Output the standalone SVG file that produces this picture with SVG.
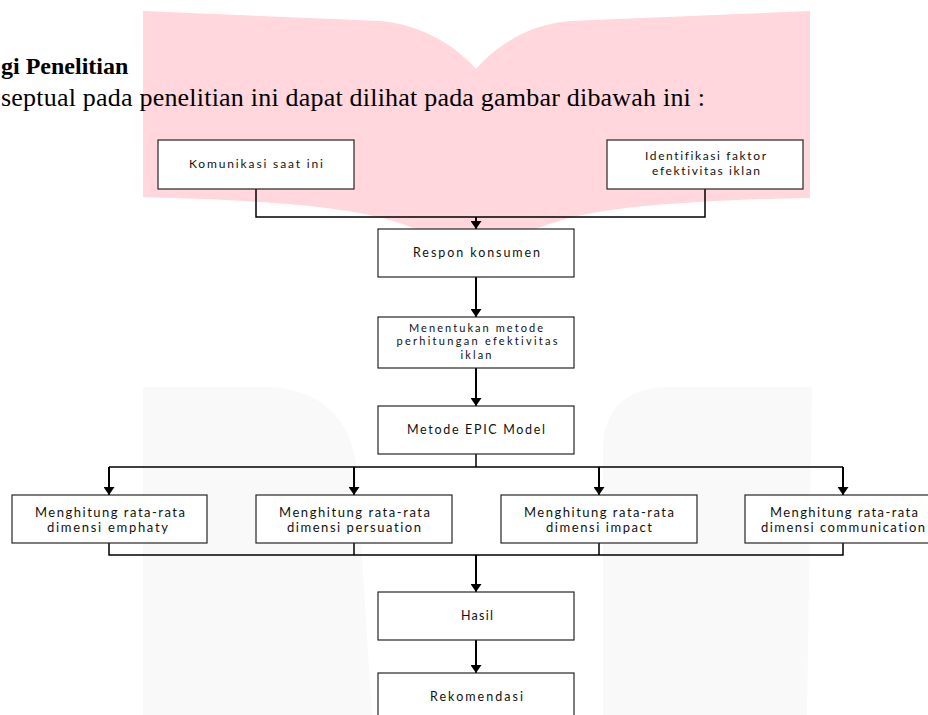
<svg xmlns="http://www.w3.org/2000/svg" width="928" height="715" viewBox="0 0 928 715">
<defs>
<style>
.box{fill:#fff;stroke:#262626;stroke-width:1.2}
.lbl{font-family:Lato,"Open Sans","Noto Sans",sans-serif;fill:#111;text-anchor:middle;font-variant-ligatures:none;font-feature-settings:"liga" 0}
.s1{font-size:12px}
.s2{font-size:12.5px}
.s4{font-size:11px}
.s3{font-size:13px}
.ln{fill:none;stroke:#000;stroke-width:1.5}
.ar{fill:none;stroke:#000;stroke-width:2;marker-end:url(#ah)}
.hd{font-family:"Liberation Serif","Times New Roman",serif;fill:#000}
.pink{fill:#FFD7DC}
.grey{fill:#F9F9F9}
</style>
<marker id="ah" viewBox="0 0 8 11" refX="8" refY="5.5" markerUnits="userSpaceOnUse" markerWidth="8" markerHeight="11" orient="auto"><path d="M0,0 L8,5.5 L0,11 Z" fill="#000"/></marker>
</defs>
<rect width="928" height="715" fill="#fff"/>
<g id="watermark">
<path class="pink" d="M476,69 C455,45 420,24 380,21 L143,11 L143,197 C260,200 340,206 390,220 C430,232 458,248 476,262 Z"/>
<path class="pink" d="M476,69 C497,45 530,24 570,21 L810,11 L810,198 C700,200 610,206 562,220 C522,232 494,248 476,262 Z"/>
<path class="grey" d="M143,715 V387 H265 C320,387 357,420 357,480 L372,715 Z"/>
<path class="grey" d="M603,715 V450 C603,410 625,387 670,387 H812 L807,715 Z"/>
</g>
<g id="header">
<text class="hd" x="1" y="74" font-size="24" font-weight="bold">gi Penelitian</text>
<text class="hd" x="1" y="106" font-size="26" textLength="704">septual pada penelitian ini dapat dilihat pada gambar dibawah ini :</text>
</g>
<g id="connectors">
<path class="ln" d="M256,189 V217 H705 V189"/>
<path class="ar" d="M476,217 V229"/>
<path class="ar" d="M476,277 V317"/>
<path class="ar" d="M476,368 V406"/>
<path class="ln" d="M476,454 V467 M109,467 H843"/>
<path class="ar" d="M109,467 V495"/>
<path class="ar" d="M354,467 V495"/>
<path class="ar" d="M599,467 V495"/>
<path class="ar" d="M843,467 V495"/>
<path class="ln" d="M109,543 V555 H843 V543 M354,543 V555 M599,543 V555"/>
<path class="ar" d="M476,555 V592"/>
<path class="ar" d="M476,640 V673"/>
</g>
<g id="n1"><rect class="box" x="158" y="140" width="196" height="49"/><text class="lbl s1" x="256" y="168" textLength="134">Komunikasi saat ini</text></g>
<g id="n2"><rect class="box" x="607" y="140" width="196" height="49"/><text class="lbl s1" x="705.5" y="160" textLength="121">Identifikasi faktor</text><text class="lbl s1" x="706" y="175" textLength="108">efektivitas iklan</text></g>
<g id="n3"><rect class="box" x="378" y="229" width="196" height="48"/><text class="lbl s2" x="476.5" y="257" textLength="127">Respon konsumen</text></g>
<g id="n4"><rect class="box" x="378" y="317" width="196" height="51"/><text class="lbl s4" x="476" y="331.5" textLength="134">Menentukan metode</text><text class="lbl s4" x="477" y="345" textLength="161">perhitungan efektivitas</text><text class="lbl s4" x="476" y="358.5" textLength="31">iklan</text></g>
<g id="n5"><rect class="box" x="378" y="406" width="196" height="48"/><text class="lbl s2" x="476" y="434" textLength="138">Metode EPIC Model</text></g>
<g id="n6"><rect class="box" x="12" y="495" width="195" height="48"/><text class="lbl s3" x="110" y="516.5" textLength="150">Menghitung rata-rata</text><text class="lbl s3" x="107.5" y="532" textLength="121">dimensi emphaty</text></g>
<g id="n7"><rect class="box" x="256" y="495" width="196" height="48"/><text class="lbl s3" x="354.5" y="516.5" textLength="151">Menghitung rata-rata</text><text class="lbl s3" x="354" y="532" textLength="134">dimensi persuation</text></g>
<g id="n8"><rect class="box" x="501" y="495" width="196" height="48"/><text class="lbl s3" x="599" y="516.5" textLength="150">Menghitung rata-rata</text><text class="lbl s3" x="599" y="532" textLength="106">dimensi impact</text></g>
<g id="n9"><rect class="box" x="745" y="495" width="196" height="48"/><text class="lbl s3" x="844" y="516.5" textLength="148">Menghitung rata-rata</text><text class="lbl s3" x="843" y="532" textLength="164">dimensi communication</text></g>
<g id="n10"><rect class="box" x="378" y="592" width="196" height="48"/><text class="lbl s2" x="477" y="620" textLength="32">Hasil</text></g>
<g id="n11"><rect class="box" x="378" y="673" width="196" height="48"/><text class="lbl s2" x="476.5" y="701" textLength="93">Rekomendasi</text></g>
</svg>
